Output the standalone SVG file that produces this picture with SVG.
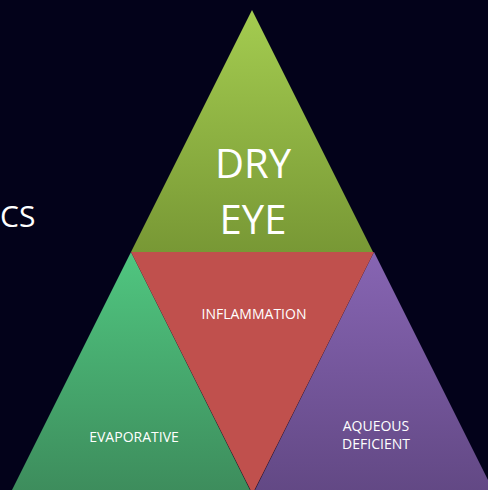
<svg xmlns="http://www.w3.org/2000/svg" width="488" height="490" viewBox="0 0 488 490">
<defs>
<linearGradient id="gTop" x1="0" y1="0" x2="0" y2="1"><stop offset="0" stop-color="#a4cc50"/><stop offset="1" stop-color="#789835"/></linearGradient>
<linearGradient id="gLeft" x1="0" y1="0" x2="0" y2="1"><stop offset="0" stop-color="#50c680"/><stop offset="1" stop-color="#3d8c5c"/></linearGradient>
<linearGradient id="gRight" x1="0" y1="0" x2="0" y2="1"><stop offset="0" stop-color="#8765b3"/><stop offset="1" stop-color="#624884"/></linearGradient>
<style>
.lbl{font-family:"Open Sans","Liberation Sans",sans-serif;fill:#ffffff;text-anchor:middle}
.small{font-size:14px}
.big{font-size:40px}
</style>
</defs>
<rect width="488" height="490" fill="#03021a"/>
<text x="0" y="227" font-family="'Open Sans','Liberation Sans',sans-serif" font-size="30" fill="#ffffff">CS</text>
<g id="top">
<polygon points="252,10 131,252 373,252" fill="url(#gTop)"/>
<text class="lbl big" x="253" y="178">DRY</text>
<text class="lbl big" x="253" y="234">EYE</text>
</g>
<g id="evaporative">
<polygon points="131,252 10,494 252,494" fill="url(#gLeft)"/>
<text class="lbl small" x="134" y="442">EVAPORATIVE</text>
</g>
<g id="aqueous">
<polygon points="374,252 253,494 495,494" fill="url(#gRight)"/>
<text class="lbl small" x="376" y="431">AQUEOUS</text>
<text class="lbl small" x="376" y="449">DEFICIENT</text>
</g>
<g id="inflammation">
<polygon points="131,252 374,252 252.5,494" fill="#c0504d"/>
<text class="lbl small" x="254" y="319" fill="#f6e6e6">INFLAMMATION</text>
</g>
<g id="connectors"/>
</svg>
